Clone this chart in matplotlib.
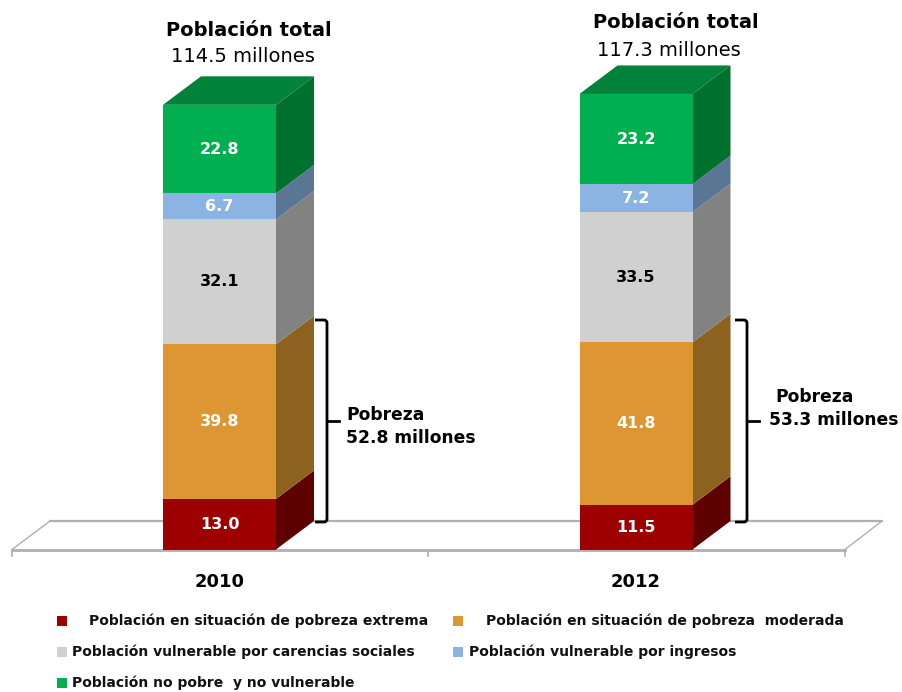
import matplotlib
matplotlib.use('Agg')
import matplotlib.pyplot as plt
from matplotlib.patches import Rectangle
from matplotlib.path import Path
from matplotlib.patches import PathPatch

years = ['2010', '2012']
extrema = [13.0, 11.5]
moderada = [39.8, 41.8]
carencias = [32.1, 33.5]
ingresos = [6.7, 7.2]
no_pobre = [22.8, 23.2]
totales = ['114.5 millones', '117.3 millones']
pobreza = ['52.8 millones', '53.3 millones']

colors = ['#9c0000', '#dd9631', '#d0d0d0', '#8cb4e2', '#00b050']
side_colors = ['#5f0000', '#8d621f', '#828282', '#5b7695', '#00702f']
top_color = '#00823a'
label_colors = ['white', 'white', 'black', 'white', 'white']

W, H = 902, 692
PX_PER_UNIT = 3.887   # pixels per million
BASE = 549.5          # baseline in pixels from the top
SPACING = 416.5       # pixels between the two categories
X0 = 219.5            # pixel of first category

fig = plt.figure(figsize=(W/100, H/100), dpi=100)
ax = fig.add_axes([0, 0, 1, 1])
ax.set_xlim(-X0/SPACING, (W-X0)/SPACING)
ax.set_ylim(-(H-BASE)/PX_PER_UNIT, BASE/PX_PER_UNIT)
ax.axis('off')

def px(x):
    return (x-X0)/SPACING
def py(y):
    return (BASE-y)/PX_PER_UNIT

bar_w = 113/SPACING
dx = 38/SPACING
dy = 28.5/PX_PER_UNIT

# floor
floor = '#b0b0b0'
ax.plot([px(12), px(845)], [py(549.5), py(549.5)], color=floor, lw=2, zorder=1)
ax.plot([px(50), px(882)], [py(521), py(521)], color=floor, lw=1.6, zorder=1)
ax.plot([px(12), px(50)], [py(549.5), py(521)], color=floor, lw=1, zorder=1)
ax.plot([px(845), px(882)], [py(549.5), py(521)], color=floor, lw=1, zorder=1)
for t in [12, 428, 845]:
    ax.plot([px(t), px(t)], [py(549.5), py(556)], color=floor, lw=1.2, zorder=1)

stacks = [extrema, moderada, carencias, ingresos, no_pobre]
for i in range(2):
    bottom = 0
    right = i + bar_w/2
    for j, vals in enumerate(stacks):
        v = vals[i]
        ax.add_patch(Rectangle((i-bar_w/2, bottom), bar_w, v, fc=colors[j], ec='none', zorder=3))
        ax.fill([right, right+dx, right+dx, right],
                [bottom, bottom+dy, bottom+v+dy, bottom+v], color=side_colors[j], lw=0, zorder=2)
        ax.text(i, bottom+v/2, f'{v:.1f}', ha='center', va='center', fontsize=11.5,
                fontweight='bold', color=label_colors[j], zorder=4)
        bottom += v
    ax.fill([i-bar_w/2, right, right+dx, i-bar_w/2+dx],
            [bottom, bottom, bottom+dy, bottom+dy], color=top_color, lw=0, zorder=2)
    ax.text(i, py(582), years[i], ha='center', va='center', fontsize=13, fontweight='bold')

# titles above the bars
ax.text(px(249), py(30), 'Población total', ha='center', va='center', fontsize=14, fontweight='bold')
ax.text(px(243), py(57), totales[0], ha='center', va='center', fontsize=14)
ax.text(px(676), py(22), 'Población total', ha='center', va='center', fontsize=14, fontweight='bold')
ax.text(px(669), py(50), totales[1], ha='center', va='center', fontsize=14)

def bracket(x_left, x_mid, x_tip, y_top, y_bot, y_mid):
    r = 3
    verts = [(x_left, y_top), (x_mid-r, y_top), (x_mid, y_top), (x_mid, y_top+r),
             (x_mid, y_bot-r), (x_mid, y_bot), (x_mid-r, y_bot), (x_left, y_bot)]
    codes = [Path.MOVETO, Path.LINETO, Path.CURVE3, Path.CURVE3,
             Path.LINETO, Path.CURVE3, Path.CURVE3, Path.LINETO]
    verts = [(px(a), py(b)) for a, b in verts]
    ax.add_patch(PathPatch(Path(verts, codes), fc='none', ec='black', lw=2, zorder=5))
    ax.plot([px(x_mid), px(x_tip)], [py(y_mid), py(y_mid)], color='black', lw=2, zorder=5)

bracket(315, 327, 339, 320, 522, 421)
bracket(735, 747, 759, 320, 522, 421)

ax.text(px(346), py(415), 'Pobreza', ha='left', va='center', fontsize=12.3, fontweight='bold')
ax.text(px(346), py(438), pobreza[0], ha='left', va='center', fontsize=12.3, fontweight='bold')
ax.text(px(775), py(397), 'Pobreza', ha='left', va='center', fontsize=12.3, fontweight='bold')
ax.text(px(769), py(420), pobreza[1], ha='left', va='center', fontsize=12.3, fontweight='bold')

# legend, placed by hand as in the original slide
legend_items = [
    (57, 621, colors[0], 89, 'Población en situación de pobreza extrema'),
    (453, 621, colors[1], 486, 'Población en situación de pobreza  moderada'),
    (57, 652, colors[2], 72, 'Población vulnerable por carencias sociales'),
    (453, 652, colors[3], 469, 'Población vulnerable por ingresos'),
    (57, 683, colors[4], 72, 'Población no pobre  y no vulnerable'),
]
for sx, sy, c, tx, label in legend_items:
    ax.add_patch(Rectangle((px(sx), py(sy+5)), 10/SPACING, 10/PX_PER_UNIT, fc=c, ec='none'))
    ax.text(px(tx), py(sy), label, ha='left', va='center', fontsize=10, fontweight='bold', color='#111111')

fig.savefig('out.png', dpi=100)
